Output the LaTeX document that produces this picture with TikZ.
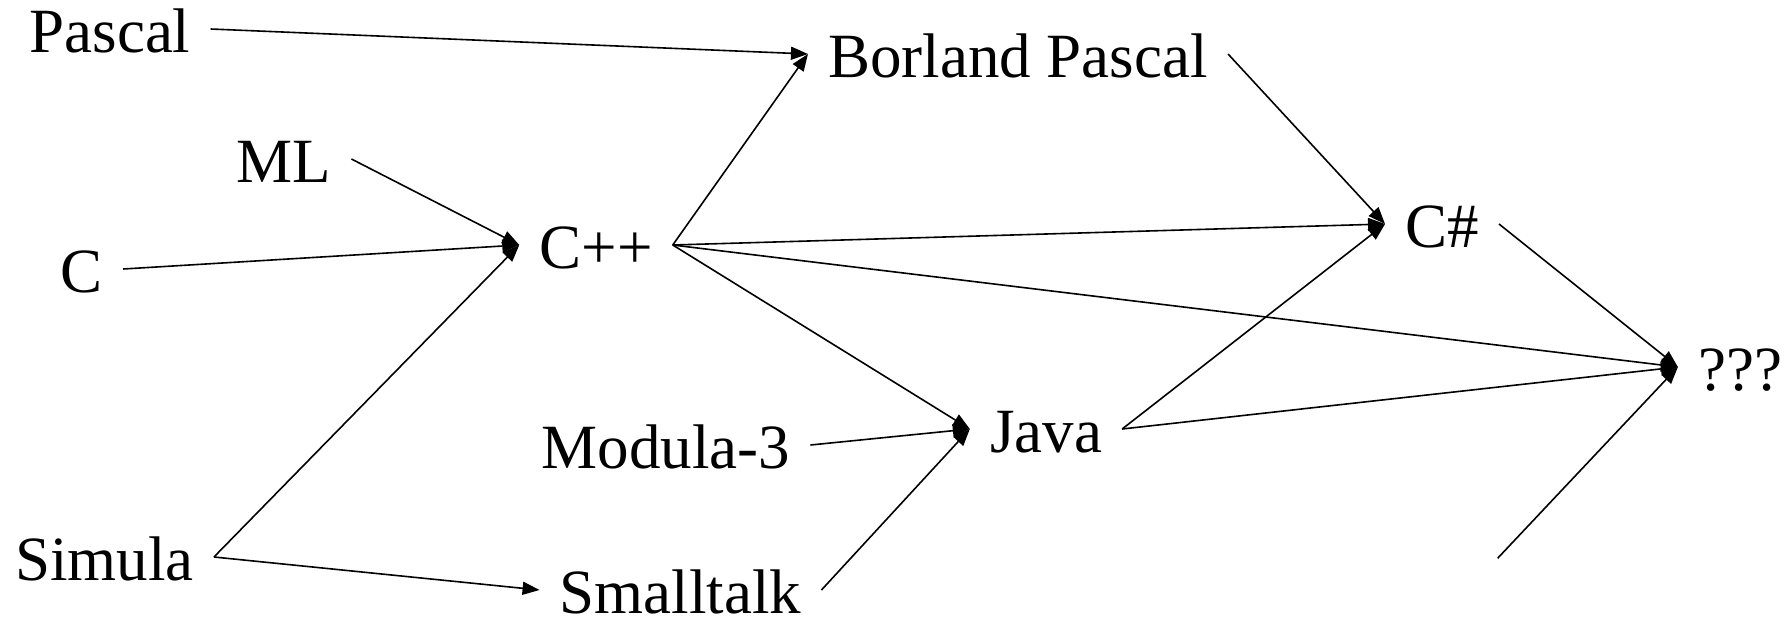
\documentclass[tikz,border=0pt]{standalone}
\usepackage{fontspec}
\setmainfont{Liberation Serif}
\usetikzlibrary{arrows.meta}
\begin{document}
\begin{tikzpicture}[x=1pt,y=-1pt,
  lang/.style={anchor=base,inner xsep=20pt,inner ysep=0pt,text height=46pt,text depth=0pt,
    font=\fontsize{63}{70}\selectfont},
  link/.style={line width=1.6pt,-{Triangle[length=17pt,width=13pt]}}]
\useasboundingbox (0,0) rectangle (1785,616);
\node[lang] (pascal) at (110,52) {Pascal};
\node[lang] (borland) at (1018,77) {Borland Pascal};
\node[lang] (ml) at (284,182) {ML};
\node[lang] (c) at (82,292) {C};
\node[lang] (cpp) at (596,268) {C++};
\node[lang] (csharp) at (1442,247) {C\#};
\node[lang] (qqq) at (1740,390) {???};
\node[lang] (modula) at (666,468) {Modula-3};
\node[lang] (java) at (1046,452) {Java};
\node[lang] (simula) at (104.5,580) {Simula};
\node[lang] (smalltalk) at (680.5,613) {Smalltalk};
\coordinate (loose) at (1497.6,558.3);
\draw[link] (pascal.east) -- (borland.west);
\draw[link] (ml.east) -- (cpp.west);
\draw[link] (c.east) -- (cpp.west);
\draw[link] (simula.east) -- (cpp.west);
\draw[link] (simula.east) -- (smalltalk.west);
\draw[link] (cpp.east) -- (borland.west);
\draw[link] (cpp.east) -- (csharp.west);
\draw[link] (cpp.east) -- (qqq.west);
\draw[link] (cpp.east) -- (java.west);
\draw[link] (borland.east) -- (csharp.west);
\draw[link] (modula.east) -- (java.west);
\draw[link] (smalltalk.east) -- (java.west);
\draw[link] (java.east) -- (csharp.west);
\draw[link] (java.east) -- (qqq.west);
\draw[link] (csharp.east) -- (qqq.west);
\draw[link] (loose) -- (qqq.west);
\end{tikzpicture}
\end{document}
